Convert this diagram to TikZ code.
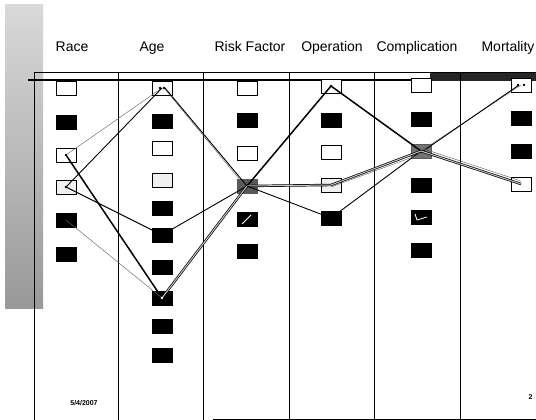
\documentclass[tikz,border=0pt]{standalone}
\usepackage{fontspec}
\setmainfont{Liberation Sans}
\begin{document}
\begin{tikzpicture}[x=1pt,y=-1pt,
  cell/.style={rectangle,draw=black,line width=0.6pt,minimum width=20pt,minimum height=14pt,inner sep=0pt},
  wbox/.style={cell,fill=white},
  lbox/.style={cell,fill=gray!12},
  bbox/.style={cell,fill=black},
  hbox/.style={cell,fill=black!65,draw=gray!70!black},
  head/.style={font=\fontsize{14}{16}\selectfont,anchor=base},
  frame/.style={line width=0.6pt},
  thickln/.style={line width=1.5pt},
  medln/.style={line width=0.9pt},
  thinln/.style={line width=0.45pt,gray!80!black},
  dblln/.style={line width=0.7pt,double=gray!45,double distance=1pt},
  tip/.style={circle,fill=black,inner sep=0pt,minimum size=2.6pt}]
\useasboundingbox (0,0) rectangle (536,420);
% left gray band
\shade[top color=gray!30,bottom color=gray!80] (5,5) rectangle (43,308);
% frame
\draw[frame,line width=1pt] (34,72) -- (34,420);
\draw[frame] (34,72) -- (536,72);
\draw[line width=1.2pt] (28,80) -- (536,80);
\fill[black!85] (430,73) rectangle (536,81);
\foreach \x in {118,203,289,374,460} \draw[frame] (\x,72) -- (\x,420);
\draw[frame] (213,419) -- (536,419);
% headers
\node[head] (hRace) at (72,52) {Race};
\node[head] (hAge) at (152,52) {Age};
\node[head] (hRisk) at (250,52) {Risk Factor};
\node[head] (hOp) at (332,52) {Operation};
\node[head] (hComp) at (417,52) {Complication};
\node[head] (hMort) at (508,52) {Mortality};
% Race
\node[wbox] (r1) at (66,88) {};
\node[bbox] (r2) at (66,122) {};
\node[wbox] (r3) at (66,155) {};
\node[lbox] (r4) at (66,187) {};
\node[bbox] (r5) at (66,220) {};
\node[bbox] (r6) at (66,254) {};
% Age
\node[wbox] (a1) at (162,88) {};
\node[bbox] (a2) at (162,121) {};
\node[wbox] (a3) at (162,148) {};
\node[lbox] (a4) at (162,180) {};
\node[bbox] (a5) at (162,208) {};
\node[bbox] (a6) at (162,235) {};
\node[bbox] (a7) at (162,267) {};
\node[bbox] (a8) at (162,298) {};
\node[bbox] (a9) at (162,326) {};
\node[bbox] (a10) at (162,355) {};
% Risk Factor
\node[wbox] (k1) at (247,88) {};
\node[bbox] (k2) at (247,120) {};
\node[wbox] (k3) at (247,153) {};
\node[hbox] (k4) at (247,186) {};
\node[bbox] (k5) at (247,219) {};
\node[bbox] (k6) at (247,251) {};
% Operation
\node[wbox] (o1) at (331,86) {};
\node[bbox] (o2) at (331,120) {};
\node[wbox] (o3) at (331,152) {};
\node[lbox] (o4) at (331,185) {};
\node[bbox] (o5) at (331,218) {};
% Complication
\node[wbox] (c1) at (421,85) {};
\node[bbox] (c2) at (421,119) {};
\node[hbox,fill=black!55] (c3) at (421,151) {};
\node[bbox] (c4) at (421,185) {};
\node[bbox] (c5) at (421,217) {};
\node[bbox] (c6) at (421,250) {};
% Mortality
\node[wbox] (m1) at (521,85) {};
\node[bbox] (m2) at (521,118) {};
\node[bbox] (m3) at (521,151) {};
\node[wbox] (m4) at (521,184) {};
% connectors
\draw[thinln] (a1.center) -- (r3.center);
\draw[medln] (a1.center) -- (r4.center);
\draw[thinln] ([xshift=2pt]a1.center) -- ([xshift=-2pt]k4.center);
\draw[medln] ([xshift=3pt]a1.center) -- (k4.center);
\draw[thickln] (r3.center) -- (a8.center);
\draw[medln] (r4.center) -- (a6.center);
\draw[thinln] (r5.center) -- (a8.center);
\draw[medln] (a6.center) -- (k4.center);
\draw[dblln] (a8.center) -- (k4.center);
\draw[white,line width=0.8pt] ([xshift=-5pt,yshift=-5pt]k5.center) -- ([xshift=4pt,yshift=4pt]k5.center);
\draw[thickln] (k4.center) -- (o1.center);
\draw[thickln] (o1.center) -- (c3.center);
\draw[dblln] (k4.center) -- (o4.center);
\draw[medln] (k4.center) -- (o5.center);
\draw[medln] (o5.center) -- (c3.center);
\draw[dblln] (o4.center) -- (c3.center);
\draw[thinln] ([yshift=-2pt]o4.center) -- ([yshift=-3pt]c3.center);
\draw[thinln] (c3.center) -- (m1.center);
\draw[medln] ([yshift=-1.5pt]c3.center) -- ([xshift=-2pt]m1.center);
\draw[dblln] (c3.center) -- (m4.center);
\draw[thinln] ([yshift=3pt]c3.center) -- ([yshift=3pt]m4.center);
\draw[white,line width=0.8pt] ([xshift=-6pt,yshift=3pt]c5.center) -- ([xshift=-4pt,yshift=-3pt]c5.center) -- ([xshift=6pt,yshift=0pt]c5.center);
% endpoint dots
\node[tip] (d1) at ([xshift=-2pt]a1.center) {};
\node[tip] (d2) at ([xshift=2pt]a1.center) {};
\node[tip] (d3) at (r3.center) {};
\node[tip] (d4) at (r4.center) {};
\node[tip] (d5) at (o1.center) {};
\node[tip] (d6) at ([xshift=-3pt]m1.center) {};
\node[tip] (d7) at ([xshift=3pt]m1.center) {};
\node[tip,fill=white] (d8) at (a8.center) {};
% footer
\node[font=\bfseries\fontsize{7}{8}\selectfont] (date) at (84,403) {5/4/2007};
\node[font=\bfseries\fontsize{7}{8}\selectfont,anchor=east] (pg) at (536,397) {2};
\end{tikzpicture}
\end{document}
